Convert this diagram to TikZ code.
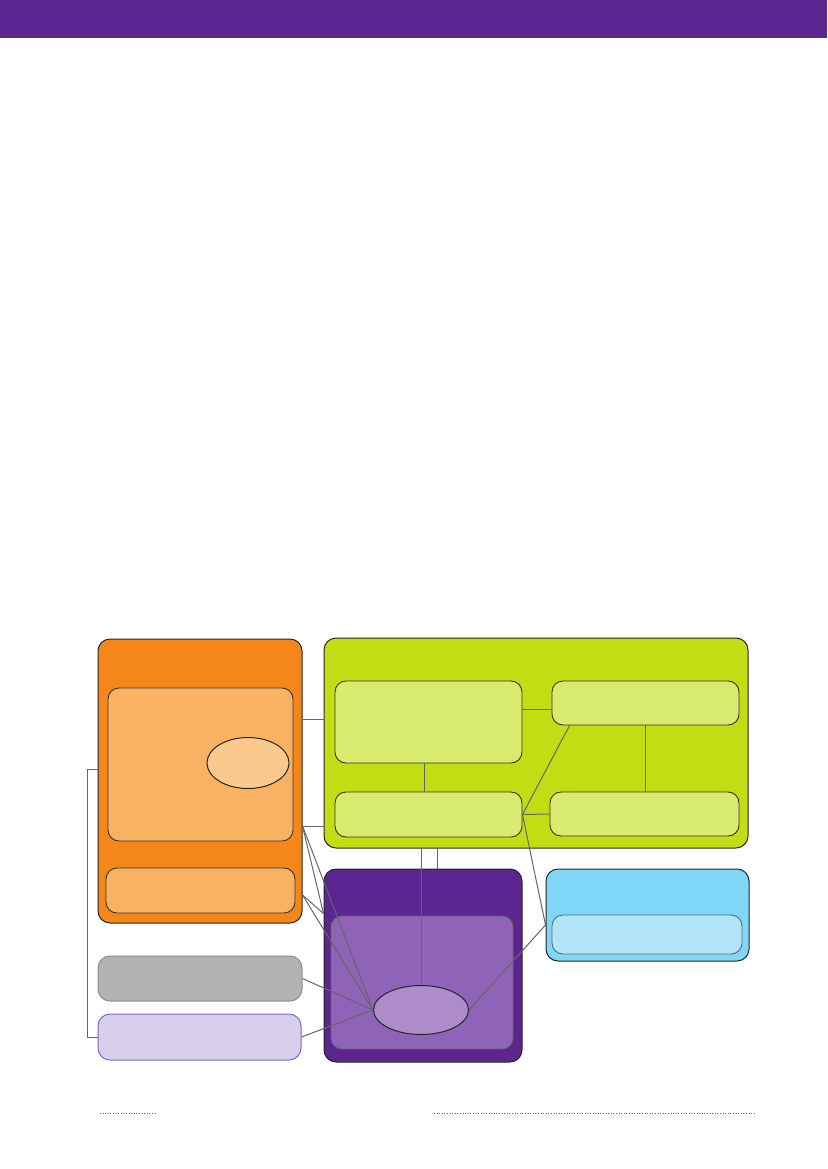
\documentclass[tikz,border=0pt]{standalone}
\usepackage{xcolor}
\usetikzlibrary{shapes.geometric}

\definecolor{hdrpurple}{HTML}{5C2590}
\definecolor{orgdark}{HTML}{F5871A}
\definecolor{orglight}{HTML}{F8B262}
\definecolor{orgpale}{HTML}{FBC98D}
\definecolor{grndark}{HTML}{C1DE14}
\definecolor{grnlight}{HTML}{D8EB6E}
\definecolor{purmid}{HTML}{8F63B8}
\definecolor{purpale}{HTML}{AE8BC9}
\definecolor{bludark}{HTML}{7FD6F7}
\definecolor{blulight}{HTML}{B3E5F8}
\definecolor{boxgray}{HTML}{B3B3B3}
\definecolor{lavfill}{HTML}{D8CFEE}
\definecolor{lavline}{HTML}{7C6BC0}
\definecolor{linkgray}{HTML}{666666}

\begin{document}
\begin{tikzpicture}[x=1pt, y=-1pt,
        panel/.style={draw=black!85, line width=1pt, rectangle, rounded corners=12pt, inner sep=0pt},
        subpanel/.style={draw=black!80, line width=0.9pt, rectangle, rounded corners=11pt, inner sep=0pt},
        blob/.style={draw=black!85, line width=1pt, ellipse, inner sep=0pt},
        link/.style={draw=linkgray, line width=1pt}]
        \useasboundingbox (0,0) rectangle (827,1169);

        % Header band
        \fill[hdrpurple] (0,0) rectangle (827,38);

        % Orange block
        \node[panel, fill=orgdark, minimum width=204pt, minimum height=284pt] (orange) at (200,781) {};
        \node[subpanel, fill=orglight, minimum width=185pt, minimum height=153pt] (orgtop) at (200.5,764.5) {};
        \node[blob, fill=orgpale, minimum width=82pt, minimum height=51pt] (orgell) at (248,763) {};
        \node[subpanel, fill=orglight, minimum width=189pt, minimum height=45pt] (orglow) at (200.5,890.5) {};

        % Green block
        \node[panel, fill=grndark, minimum width=424pt, minimum height=210pt] (green) at (536,743) {};
        \node[subpanel, fill=grnlight, minimum width=187pt, minimum height=82pt] (gtl) at (428.5,722) {};
        \node[subpanel, fill=grnlight, minimum width=187pt, minimum height=44pt] (gtr) at (645.5,703) {};
        \node[subpanel, fill=grnlight, minimum width=187pt, minimum height=45pt] (gbl) at (428.5,814.5) {};
        \node[subpanel, fill=grnlight, minimum width=189pt, minimum height=44pt] (gbr) at (644.5,814) {};

        % Purple block
        \node[panel, fill=hdrpurple, minimum width=198pt, minimum height=193pt] (purple) at (423,965.5) {};
        \node[subpanel, draw=black!60, fill=purmid, minimum width=182pt, minimum height=133pt] (purin) at (422,982.5) {};
        \node[blob, fill=purpale, minimum width=95pt, minimum height=49pt] (purell) at (421,1010) {};

        % Blue block
        \node[panel, fill=bludark, minimum width=203pt, minimum height=92pt] (blue) at (647.5,915) {};
        \node[subpanel, draw=black!60, fill=blulight, minimum width=190pt, minimum height=39pt] (bluin) at (647,934.5) {};

        % Loose boxes
        \node[panel, draw=black!45, fill=boxgray, minimum width=204pt, minimum height=45pt] (gray) at (200,978.5) {};
        \node[panel, draw=lavline, fill=lavfill, minimum width=203pt, minimum height=46pt] (lav) at (199.5,1037) {};

        % Links inside green
        \draw[link] ([yshift=-6pt]gtr.west) -- ([yshift=-6pt]gtr.west -| gtl.east);
        \draw[link] ([xshift=-4pt]gtl.south) -- ([xshift=-4pt]gbl.north);
        \draw[link] (gtr.south) -- (gtr.south |- gbr.north);
        \draw[link] (gbl.east) -- (gbr.west);
        \draw[link] (gbl.east) -- ([xshift=18pt]gtr.south west);

        % Links to blue
        \draw[link] (gbl.east) -- ([yshift=-10pt]blue.west);
        \draw[link] ([yshift=-10pt]blue.west) -- (purell.east);

        % Orange to green
        \draw[link] ([yshift=3pt]gtl.west -| orange.east) -- ([yshift=3pt]gtl.west -| green.west);
        \draw[link] ([yshift=-45pt]orange.east) -- ([yshift=-45pt]orange.east -| green.west);

        % Fan into purple
        \draw[link] ([yshift=-45pt]orange.east) -- ([yshift=52pt]purple.west);
        \draw[link] ([yshift=-45pt]orange.east) -- (purell.west);
        \draw[link] ([yshift=-114pt]orange.east) -- ([yshift=52pt]purple.west);
        \draw[link] ([yshift=-114pt]orange.east) -- (purell.west);
        \draw[link] (gray.east) -- (purell.west);
        \draw[link] (lav.east) -- (purell.west);

        % Green to purple
        \draw[link] (purell.north |- green.south) -- (purell.north);
        \draw[link] ([xshift=14pt]purple.north |- green.south) -- ([xshift=14pt]purple.north);

        % Left bracket
        \draw[link, line width=0.7pt] ([yshift=12pt]orange.west) -- ++(-10pt,0) |- (lav.west);

        % Footer dots
        \draw[hdrpurple!80, line width=0.6pt, dotted] (100,1113) -- (157,1113);
        \draw[hdrpurple!80, line width=0.6pt, dotted] (434,1113) -- (755,1113);
\end{tikzpicture}
\end{document}
